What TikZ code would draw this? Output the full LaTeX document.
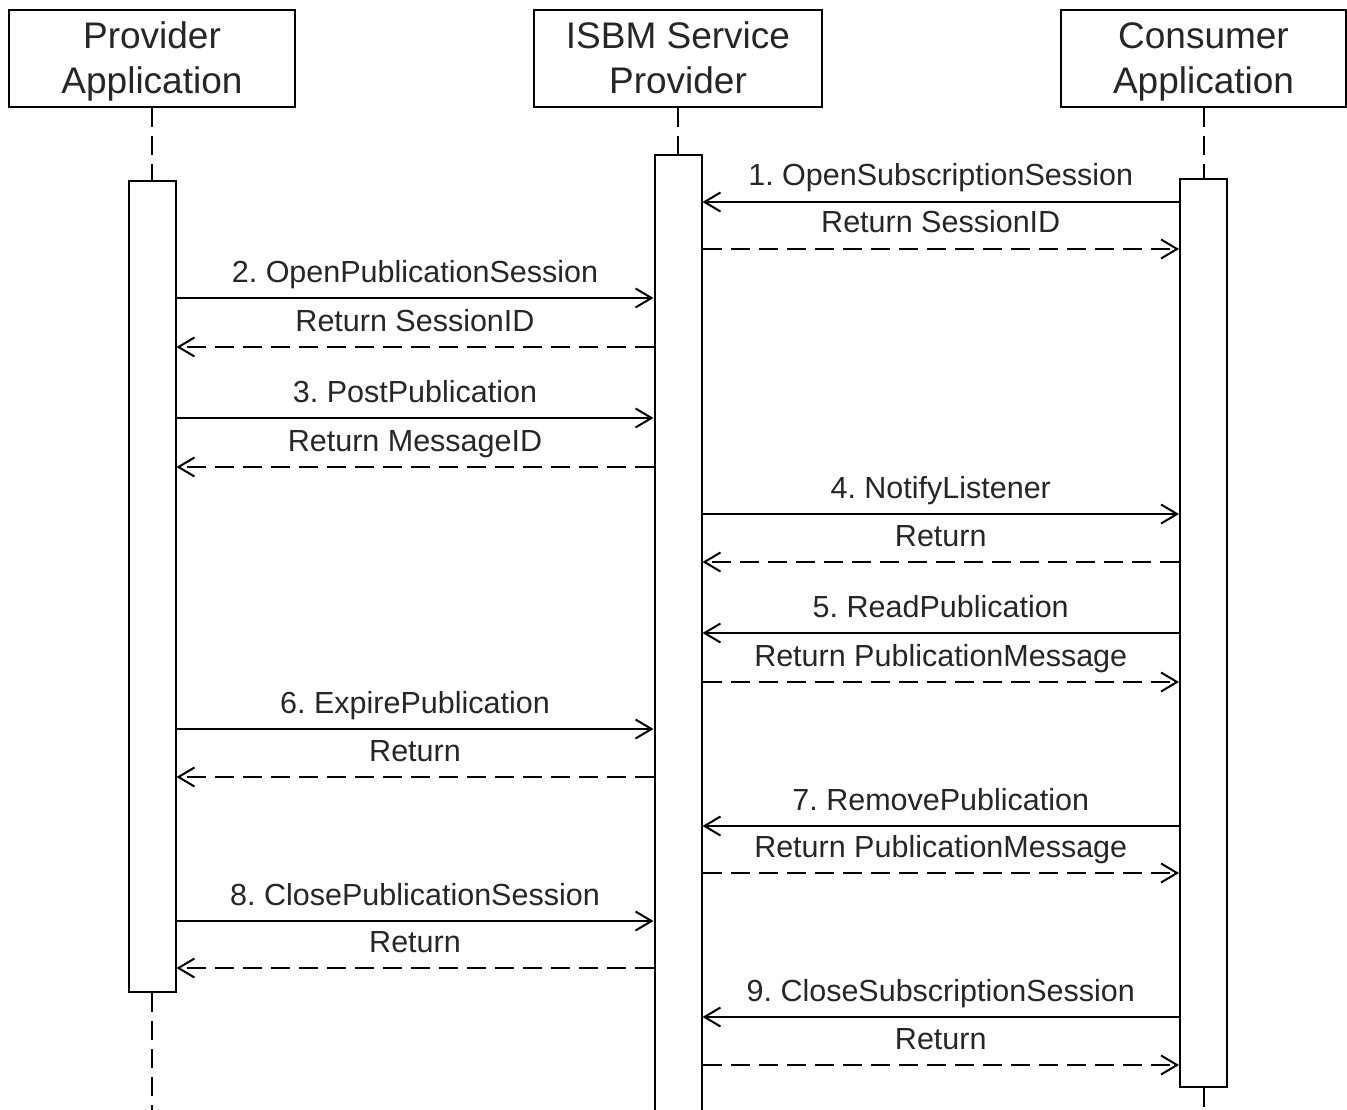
\documentclass[tikz,border=0pt]{standalone}
\usepackage{fontspec}
\setmainfont{Liberation Sans}
\usetikzlibrary{arrows.meta}
\frenchspacing
\newcommand{\hdtop}{\rule{0pt}{38pt}}
\begin{document}
\begin{tikzpicture}[x=1pt,y=-1pt,line width=2pt,
  head/.style={draw,inner sep=0pt,font=\fontsize{37}{45}\selectfont,align=center,text=black!85},
  bar/.style={draw,fill=white,inner sep=0pt,minimum width=47pt},
  life/.style={dash pattern=on 19pt off 9pt},
  call/.style={-{Straight Barb[length=16pt,width=19pt,line width=2pt]}},
  ret/.style={call,dash pattern=on 19pt off 9pt},
  lbl/.style={font=\fontsize{30.5}{31}\selectfont,text=black!85,inner sep=0pt,text depth=6pt,anchor=south,yshift=9pt}]
\useasboundingbox (0,0) rectangle (1347,1110);
% heads
\node[head,minimum width=286pt,minimum height=97pt] (pa) at (152,58.5) {\hdtop Provider\strut\\Application\strut};
\node[head,minimum width=288pt,minimum height=97pt] (sp) at (678,58.5) {\hdtop ISBM Service\strut\\Provider\strut};
\node[head,minimum width=285pt,minimum height=97pt] (ca) at (1203.5,58.5) {\hdtop Consumer\strut\\Application\strut};
% activation bars
\node[bar,minimum height=811pt] (pbar) at (152,586.5) {};
\node[bar,minimum height=960pt] (sbar) at (678,635) {};
\node[bar,minimum height=908pt] (cbar) at (1203.5,633) {};
% lifelines
\coordinate (pend) at (152,1110);
\coordinate (cend) at (1203.5,1110);
\draw[life] (pa.south) -- (pbar.north);
\draw[life] (pbar.south) -- (pend);
\draw[life] (sp.south) -- (sbar.north);
\draw[life] (ca.south) -- (cbar.north);
\draw[life] (cbar.south) -- (cend);
% messages
\draw[call] (cbar.west |- 0,202) -- node[lbl]{1. OpenSubscriptionSession} (sbar.east |- 0,202);
\draw[ret]  (sbar.east |- 0,249) -- node[lbl]{Return SessionID} (cbar.west |- 0,249);
\draw[call] (pbar.east |- 0,298) -- node[lbl]{2. OpenPublicationSession} (sbar.west |- 0,298);
\draw[ret]  (sbar.west |- 0,347) -- node[lbl]{Return SessionID} (pbar.east |- 0,347);
\draw[call] (pbar.east |- 0,418) -- node[lbl]{3. PostPublication} (sbar.west |- 0,418);
\draw[ret]  (sbar.west |- 0,467) -- node[lbl]{Return MessageID} (pbar.east |- 0,467);
\draw[call] (sbar.east |- 0,514) -- node[lbl]{4. NotifyListener} (cbar.west |- 0,514);
\draw[ret]  (cbar.west |- 0,562) -- node[lbl]{Return} (sbar.east |- 0,562);
\draw[call] (cbar.west |- 0,633) -- node[lbl]{5. ReadPublication} (sbar.east |- 0,633);
\draw[ret]  (sbar.east |- 0,682) -- node[lbl]{Return PublicationMessage} (cbar.west |- 0,682);
\draw[call] (pbar.east |- 0,729) -- node[lbl]{6. ExpirePublication} (sbar.west |- 0,729);
\draw[ret]  (sbar.west |- 0,777) -- node[lbl]{Return} (pbar.east |- 0,777);
\draw[call] (cbar.west |- 0,826) -- node[lbl]{7. RemovePublication} (sbar.east |- 0,826);
\draw[ret]  (sbar.east |- 0,873) -- node[lbl]{Return PublicationMessage} (cbar.west |- 0,873);
\draw[call] (pbar.east |- 0,921) -- node[lbl]{8. ClosePublicationSession} (sbar.west |- 0,921);
\draw[ret]  (sbar.west |- 0,968) -- node[lbl]{Return} (pbar.east |- 0,968);
\draw[call] (cbar.west |- 0,1017) -- node[lbl]{9. CloseSubscriptionSession} (sbar.east |- 0,1017);
\draw[ret]  (sbar.east |- 0,1065) -- node[lbl]{Return} (cbar.west |- 0,1065);
\end{tikzpicture}
\end{document}
